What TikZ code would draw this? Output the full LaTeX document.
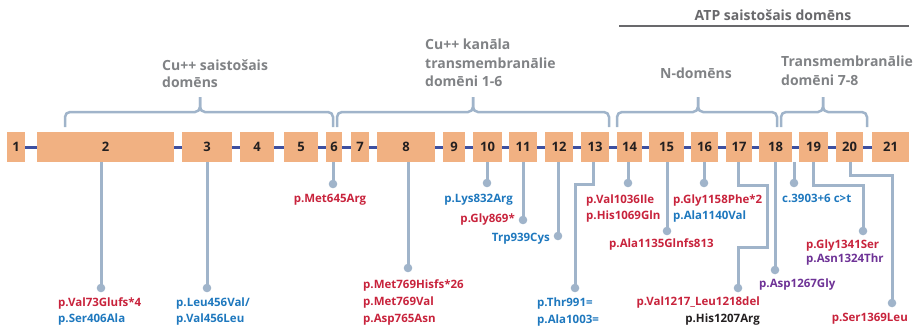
\documentclass[tikz,border=0pt]{standalone}
\usepackage{fontspec}
\setmainfont{Open Sans}
\definecolor{exonfill}{RGB}{241,177,130}
\definecolor{bbcol}{RGB}{62,80,160}
\definecolor{pincol}{RGB}{160,180,202}
\definecolor{domgray}{RGB}{128,130,133}
\definecolor{atpgray}{RGB}{105,105,108}
\definecolor{mred}{RGB}{200,35,60}
\definecolor{mblue}{RGB}{30,120,190}
\definecolor{mpurple}{RGB}{110,50,150}
\definecolor{mblack}{RGB}{35,31,32}
\begin{document}
\begin{tikzpicture}[x=1pt,y=-1pt,
  exon/.style={rectangle, fill=exonfill, inner sep=0pt, outer sep=0pt,
    minimum height=30pt, font=\bfseries\fontsize{13}{13}\selectfont, text=mblack},
  intron/.style={draw=bbcol, line width=3pt},
  brace/.style={draw=pincol, line width=2.5pt, rounded corners=5pt},
  pinline/.style={draw=pincol, line width=3pt},
  pindot/.style={fill=pincol},
  mut/.style={inner sep=0pt, font=\bfseries\fontsize{11.5}{11.5}\selectfont},
  domlabel/.style={inner sep=0pt, text=domgray, align=left,
    font=\bfseries\fontsize{14}{16.6}\selectfont}]
\useasboundingbox (0,0) rectangle (923,327);

% exons: number / left edge / right edge
\foreach \n/\a/\b in {1/7/25,2/37/174,3/182/232,4/240/274,5/284/318,6/326/342,
    7/351/369,8/377/435,9/443/465,10/473/502,11/509/537,12/545/573,13/581/609,
    14/617/642,15/649/684,16/691/718,17/726/752,18/759/792,19/799/828,20/836/863,
    21/872/909}
  \node[exon, minimum width={(\b-\a)*1pt}] (e\n) at ({(\a+\b)/2},147) {\n};

% introns joining neighbouring exons
\foreach \i [count=\j from 2] in {1,...,20}
  \draw[intron] (e\i.east) -- (e\j.west);

% domain braces
\draw[brace] (65,127) -- (65,112) -- (200,112) -- (200,97);
\draw[brace] (200,97) -- (200,112) -- (333,112) -- (333,127);
\draw[brace] (337,127) -- (337,112) -- (473,112) -- (473,97);
\draw[brace] (473,97) -- (473,112) -- (609,112) -- (609,127);
\draw[brace] (617,127) -- (617,112) -- (698,112) -- (698,97);
\draw[brace] (698,97) -- (698,112) -- (777,112) -- (777,127);
\draw[brace] (781,127) -- (781,112) -- (823,112) -- (823,97);
\draw[brace] (823,97) -- (823,112) -- (867,112) -- (867,127);

% domain titles
\node[domlabel, anchor=north west] (d1) at (162,60) {Cu++ saistošais\\domēns};
\node[domlabel, anchor=north west, font=\bfseries\fontsize{14}{18.5}\selectfont]
  (d2) at (425,39) {Cu++ kanāla\\transmembranālie\\domēni 1-6};
\node[domlabel, anchor=base] (d3) at (696,78) {N-domēns};
\node[domlabel, anchor=north west, font=\bfseries\fontsize{14}{19}\selectfont]
  (d4) at (781,56) {Transmembranālie\\domēni 7-8};
\node[domlabel, anchor=base, text=atpgray] (atp) at (773,20) {ATP saistošais domēns};
\draw[draw=atpgray, line width=2pt] (619,26) -- (909,26);

% pin ends
\coordinate (m2) at (101,288);
\coordinate (m3) at (207,288);
\coordinate (m6) at (333,184);
\coordinate (m8) at (408,268);
\coordinate (m10) at (487,183);
\coordinate (m11) at (523,220);
\coordinate (m12) at (558,236);
\coordinate (m13) at (575,288);
\coordinate (m14) at (628,183);
\coordinate (m15) at (667,231);
\coordinate (m16) at (704,183);
\coordinate (m17) at (738,288);
\coordinate (m18) at (775,270);
\coordinate (mi) at (794,183);
\coordinate (m19) at (863,231);
\coordinate (m20) at (892,303);

% pins
\foreach \k in {2,3,6,8,10,11,12,14,15,16,18}
  \draw[pinline] (e\k.south -| m\k) -- (m\k);
\draw[pinline] (e13.south -| 593,0) |- (575,184) -- (m13);
\draw[pinline] (e17.south -| m17) |- (767,185) |- (738,247) -- (m17);
\draw[pinline] (e18.south -| mi) -- (mi);
\draw[pinline] (e19.south -| 813,0) |- (863,185) -- (m19);
\draw[pinline] (e20.south -| 850,0) |- (892,175) -- (m20);
\foreach \k in {2,3,6,8,10,11,12,13,14,15,16,17,18,i,19,20}
  \fill[pindot] (m\k) circle (4.3pt);

% variant labels
\node[mut, anchor=base west, text=mred]  (v1)  at (58,306.5)  {p.Val73Glufs*4};
\node[mut, anchor=base west, text=mblue] (v2)  at (58,322.5)  {p.Ser406Ala};
\node[mut, anchor=base west, text=mblue] (v3)  at (176,306.5) {p.Leu456Val/};
\node[mut, anchor=base west, text=mblue] (v4)  at (176,322.5) {p.Val456Leu};
\node[mut, anchor=base, text=mred]       (v5)  at (330,202.5) {p.Met645Arg};
\node[mut, anchor=base west, text=mred]  (v6)  at (363,288.5) {p.Met769Hisfs*26};
\node[mut, anchor=base west, text=mred]  (v7)  at (363,305.5) {p.Met769Val};
\node[mut, anchor=base west, text=mred]  (v8)  at (363,322.5) {p.Asp765Asn};
\node[mut, anchor=base east, text=mblue] (v9)  at (513,202.5) {p.Lys832Arg};
\node[mut, anchor=base east, text=mred]  (v10) at (515,222.5) {p.Gly869*};
\node[mut, anchor=base east, text=mblue] (v11) at (550,241.5) {Trp939Cys};
\node[mut, anchor=base west, text=mblue] (v12) at (537,306.5) {p.Thr991=};
\node[mut, anchor=base west, text=mblue] (v13) at (537,323.5) {p.Ala1003=};
\node[mut, anchor=base west, text=mred]  (v14) at (586,203.5) {p.Val1036Ile};
\node[mut, anchor=base west, text=mred]  (v15) at (586,219.5) {p.His1069Gln};
\node[mut, anchor=base west, text=mred]  (v16) at (609,247.5) {p.Ala1135Glnfs813};
\node[mut, anchor=base west, text=mred]  (v17) at (673,203.5) {p.Gly1158Phe*2};
\node[mut, anchor=base west, text=mblue] (v18) at (673,219.5) {p.Ala1140Val};
\node[mut, anchor=base west, text=mblue] (v19) at (782,202.5) {c.3903+6 c>t};
\node[mut, anchor=base west, text=mpurple] (v20) at (759,287.5) {p.Asp1267Gly};
\node[mut, anchor=base east, text=mred]  (v21) at (760,305.5) {p.Val1217\_Leu1218del};
\node[mut, anchor=base east, text=mblack] (v22) at (760,322.5) {p.His1207Arg};
\node[mut, anchor=base west, text=mred]  (v23) at (806,248.5) {p.Gly1341Ser};
\node[mut, anchor=base west, text=mpurple] (v24) at (806,262.5) {p.Asn1324Thr};
\node[mut, anchor=base east, text=mred]  (v25) at (908,321.5) {p.Ser1369Leu};
\end{tikzpicture}
\end{document}
